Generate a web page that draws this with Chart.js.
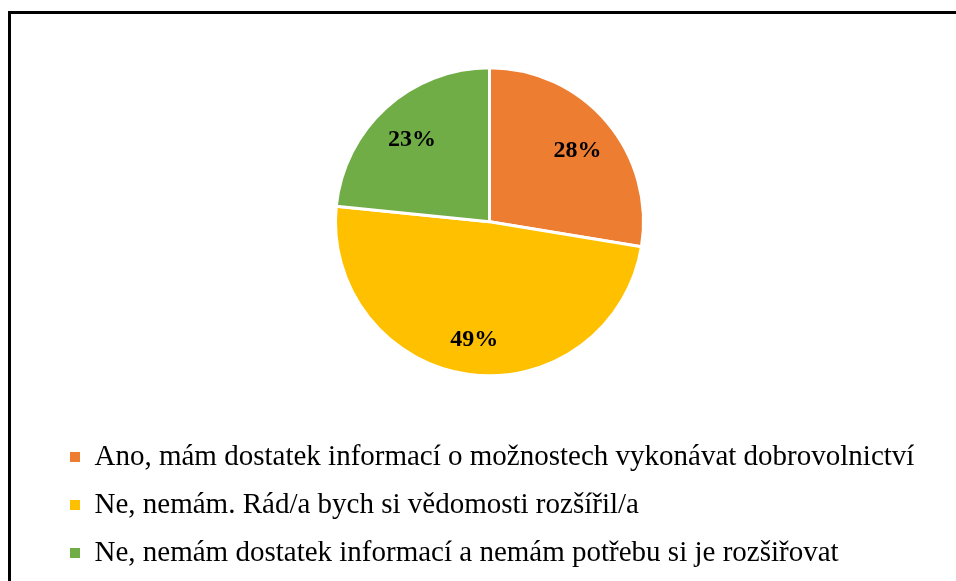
<!DOCTYPE html>
<html>
<head>
<meta charset="utf-8">
<script src="https://cdn.jsdelivr.net/npm/chart.js@4"></script>
<style>
  html, body { margin: 0; padding: 0; background: #fff; overflow: hidden; }
  #frame { position: absolute; left: 8px; top: 11px; width: 1000px; height: 700px; border: 3px solid #000; }
  #wrap { position: absolute; left: 0; top: 0; width: 956px; height: 581px; }
</style>
</head>
<body>
<div id="frame"></div>
<div id="wrap"><canvas id="pie"></canvas></div>
<script>
var labels = [
  "Ano, mám dostatek informací o možnostech vykonávat dobrovolnictví",
  "Ne, nemám. Rád/a bych si vědomosti rozšířil/a",
  "Ne, nemám dostatek informací a nemám potřebu si je rozšiřovat"
];
var values = [27.6, 49.0, 23.4];
var sliceColors = ["#ED7D31", "#FFC000", "#70AD47"];

// percentage labels inside the slices
var sliceLabels = {
  id: "sliceLabels",
  afterDatasetsDraw: function (chart) {
    var ctx = chart.ctx;
    var meta = chart.getDatasetMeta(0);
    var total = values.reduce(function (a, b) { return a + b; }, 0);
    ctx.save();
    ctx.font = "bold 24px 'Liberation Serif', 'Times New Roman', serif";
    ctx.fillStyle = "#000";
    ctx.textAlign = "center";
    ctx.textBaseline = "middle";
    meta.data.forEach(function (arc, i) {
      var p = arc.getProps(["x", "y", "startAngle", "endAngle", "outerRadius"], true);
      var mid = (p.startAngle + p.endAngle) / 2;
      var r = p.outerRadius * 0.75;
      ctx.fillText(Math.round(values[i] / total * 100) + "%", p.x + Math.cos(mid) * r, p.y + Math.sin(mid) * r + 4);
    });
    ctx.restore();
  }
};

new Chart("pie", {
  type: "pie",
  data: {
    labels: labels,
    datasets: [{
      data: values,
      backgroundColor: sliceColors,
      borderColor: "#fff",
      borderWidth: 3
    }]
  },
  options: {
    responsive: true,
    maintainAspectRatio: false,
    animation: false,
    radius: 154,
    layout: { padding: { top: 20, left: 51, right: 28, bottom: 3.5 } },
    plugins: {
      tooltip: { enabled: false },
      legend: {
        position: "bottom",
        align: "start",
        labels: {
          boxWidth: 10,
          boxHeight: 10,
          padding: 19,
          color: "#000",
          font: { family: "'Liberation Serif', 'Times New Roman', serif", size: 29 },
          generateLabels: function () {
            return labels.map(function (t, i) {
              return { text: t, fillStyle: sliceColors[i], strokeStyle: sliceColors[i], lineWidth: 0, hidden: false, index: i, fontColor: "#000" };
            });
          }
        }
      }
    }
  },
  plugins: [sliceLabels]
});
</script>
</body>
</html>
